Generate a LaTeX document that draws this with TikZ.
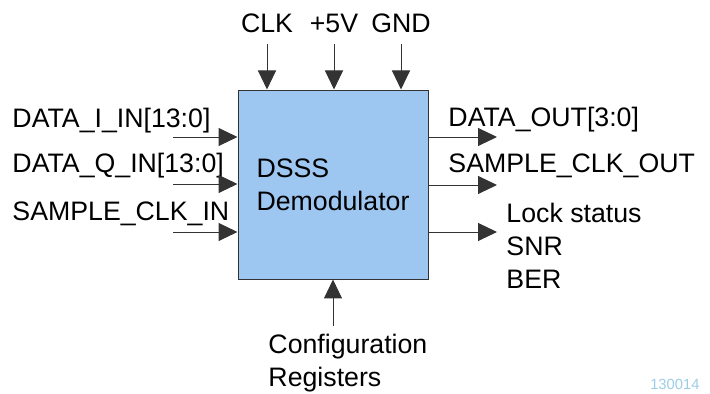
\documentclass[tikz,border=0pt]{standalone}
\usepackage{fontspec}
\setmainfont{Liberation Sans}
\usetikzlibrary{arrows.meta, positioning, calc}
\definecolor{cblue}{HTML}{9DC6F0}
\definecolor{cline}{HTML}{333333}
\definecolor{cmark}{HTML}{9CCDE6}
\tikzset{
  every picture/.style={font=\fontsize{19}{23.5}\selectfont, line width=0.7pt},
  block/.style={draw=cline, fill=cblue, minimum width=4.75cm, minimum height=4.725cm, inner sep=0pt, align=left},
  signal/.style={inner sep=0pt, align=left},
  arrow/.style={-{Triangle[length=0.475cm, width=0.45cm]}, draw=cline},
  stamp/.style={font=\fontsize{10.5}{12}\selectfont, text=cmark, inner sep=0pt},
}
\begin{document}
\begin{tikzpicture}
  \useasboundingbox (0,0) rectangle (17.75,9.85);
  \node[block] (dsss) at (8.325,5.2375) {DSSS\\Demodulator};
  % supply and clock from above
  \node[signal, anchor=base] (clk) at (6.675,9.025) {CLK};
  \node[signal, anchor=base] (vcc) at (8.35,9.025) {+5V};
  \node[signal, anchor=base] (gnd) at (10.025,9.025) {GND};
  \draw[arrow, shorten <=0.25cm] (clk.south) -- (clk.south |- dsss.north);
  \draw[arrow, shorten <=0.25cm] (vcc.south) -- (vcc.south |- dsss.north);
  \draw[arrow, shorten <=0.25cm] (gnd.south) -- (gnd.south |- dsss.north);
  % inputs
  \node[signal, anchor=base west] (iin) at (0.3,6.65) {DATA\_I\_IN[13:0]};
  \node[signal, anchor=base west] (qin) at (0.3,5.525) {DATA\_Q\_IN[13:0]};
  \node[signal, anchor=base west] (cin) at (0.3,4.33) {SAMPLE\_CLK\_IN};
  \coordinate (iin-t) at (4.325,6.425);
  \coordinate (qin-t) at (4.325,5.25);
  \coordinate (cin-t) at (4.325,4.05);
  \draw[arrow] (iin-t) -- (iin-t -| dsss.west);
  \draw[arrow] (qin-t) -- (qin-t -| dsss.west);
  \draw[arrow] (cin-t) -- (cin-t -| dsss.west);
  % outputs
  \node[signal, anchor=base west] (dout) at (11.2,6.675) {DATA\_OUT[3:0]};
  \node[signal, anchor=base west] (cout) at (11.2,5.525) {SAMPLE\_CLK\_OUT};
  \node[signal, anchor=north west] (stat) at (12.65,4.78) {Lock status\\SNR\\BER};
  \coordinate (dout-h) at (12.425,6.425);
  \coordinate (cout-h) at (12.425,5.225);
  \coordinate (stat-h) at (12.425,4.05);
  \draw[arrow] (dout-h -| dsss.east) -- (dout-h);
  \draw[arrow] (cout-h -| dsss.east) -- (cout-h);
  \draw[arrow] (stat-h -| dsss.east) -- (stat-h);
  % configuration from below
  \node[signal, anchor=north west] (cfg) at (6.7,1.5) {Configuration\\Registers};
  \draw[arrow, shorten <=0.2cm] (dsss.south |- cfg.north) -- (dsss.south);
  \node[stamp, anchor=base east] (id) at (17.5,0.1) {130014};
\end{tikzpicture}
\end{document}
